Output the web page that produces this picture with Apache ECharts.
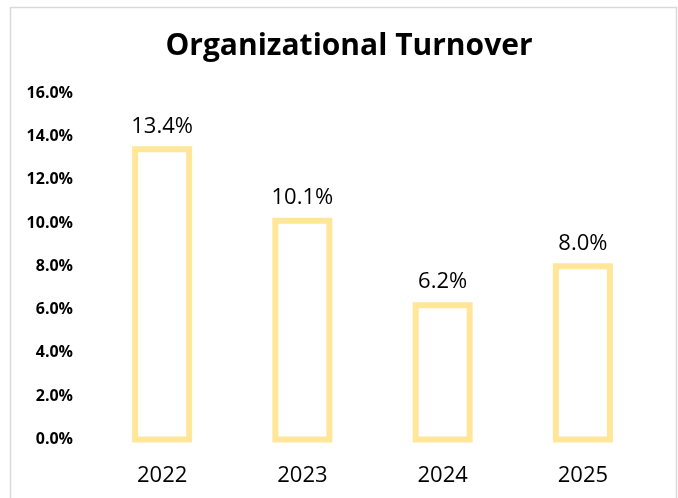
<!DOCTYPE html>
<html>
<head>
<meta charset="utf-8">
<script src="https://cdn.jsdelivr.net/npm/echarts@6/dist/echarts.min.js"></script>
<style>
  html, body { margin: 0; padding: 0; background: #fff; }
  #main { width: 678px; height: 498px; }
</style>
</head>
<body>
<div id="main"></div>
<script>
// data
var years = ['2022', '2023', '2024', '2025'];
var turnover = [13.4, 10.1, 6.2, 8.0];

var chart = echarts.init(document.getElementById('main'));
var font = '"Open Sans", sans-serif';

// outline frame with the stroke centred on the value (bar series would inset it)
function renderFrame(params, api) {
    var top = api.coord([api.value(0), api.value(1)]);
    var base = api.coord([api.value(0), 0]);
    var w = api.size([1, 0])[0] * 0.385;
    return {
        type: 'rect',
        shape: { x: top[0] - w / 2, y: top[1], width: w, height: base[1] - top[1] },
        style: { fill: '#fff', stroke: '#FFE699', lineWidth: 6 }
    };
}

chart.setOption({
    backgroundColor: '#fff',
    animation: false,
    title: {
        text: 'Organizational Turnover',
        left: 344,
        textAlign: 'center',
        top: 26,
        textStyle: { fontFamily: font, fontSize: 30, fontWeight: 'bold', color: '#000' }
    },
    graphic: [{
        type: 'rect',
        shape: { x: 10.5, y: 7.5, width: 666, height: 500 },
        style: { fill: 'none', stroke: '#d9d9d9', lineWidth: 1.5 },
        silent: true
    }],
    grid: { left: 92, right: 25, top: 93, bottom: 58.5 },
    xAxis: {
        type: 'category',
        data: years,
        axisLine: { show: false },
        axisTick: { show: false },
        axisLabel: { margin: 25, fontFamily: font, fontSize: 22, color: '#000' }
    },
    yAxis: {
        type: 'value',
        min: 0,
        max: 16,
        interval: 2,
        splitLine: { show: false },
        axisLine: { show: false },
        axisTick: { show: false },
        axisLabel: {
            margin: 19,
            fontFamily: font,
            fontSize: 16,
            fontWeight: 'bold',
            color: '#000',
            formatter: function (v) { return v.toFixed(1) + '%'; }
        }
    },
    series: [{
        type: 'custom',
        data: years.map(function (y, i) { return [i, turnover[i]]; }),
        renderItem: renderFrame,
        z: 2
    }, {
        type: 'bar',
        data: turnover,
        barWidth: '38.5%',
        itemStyle: { color: 'rgba(0,0,0,0)' },
        z: 3,
        label: {
            show: true,
            position: 'top',
            distance: 12,
            fontFamily: font,
            fontSize: 22,
            color: '#000',
            formatter: function (p) { return p.value.toFixed(1) + '%'; }
        }
    }]
});
</script>
</body>
</html>
